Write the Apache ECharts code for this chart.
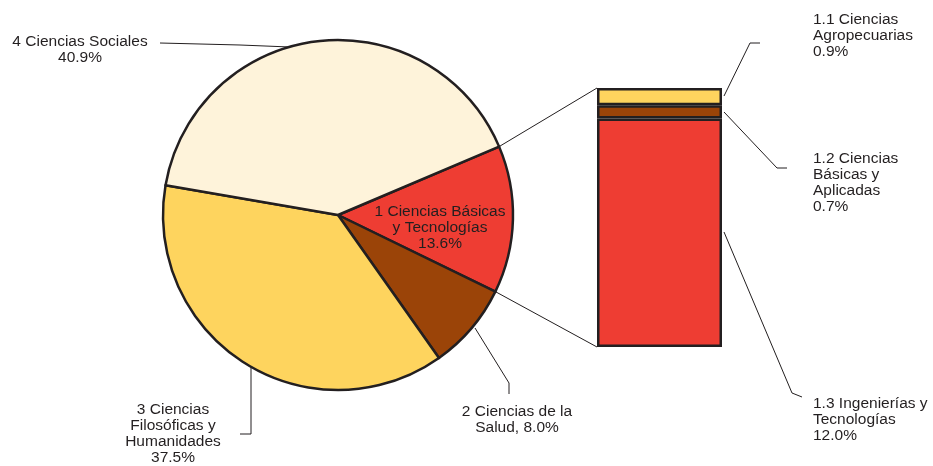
<!DOCTYPE html>
<html>
<head>
<meta charset="utf-8">
<script src="https://cdn.jsdelivr.net/npm/echarts@6/dist/echarts.min.js"></script>
<style>
html,body{margin:0;padding:0;background:#fff;}
#c{width:933px;height:466px;}
</style>
</head>
<body>
<div id="c"></div>
<script>
// ---- data ----
const pieCategories = ['1 Ciencias Básicas y Tecnologías', '2 Ciencias de la Salud', '3 Ciencias Filosóficas y Humanidades', '4 Ciencias Sociales'];
const pieValues = [13.6, 8.0, 37.5, 40.9];
const pieLabels = ['1 Ciencias Básicas\ny Tecnologías\n13.6%', '2 Ciencias de la\nSalud, 8.0%', '3 Ciencias\nFilosóficas y\nHumanidades\n37.5%', '4 Ciencias Sociales\n40.9%'];
const barCategories = ['1.1 Ciencias Agropecuarias', '1.2 Ciencias Básicas y Aplicadas', '1.3 Ingenierías y Tecnologías'];
const barValues = [0.9, 0.7, 12.0];
const barLabels = ['1.1 Ciencias\nAgropecuarias\n0.9%', '1.2 Ciencias\nBásicas y\nAplicadas\n0.7%', '1.3 Ingenierías y\nTecnologías\n12.0%'];

// ---- styles / layout ----
const pieColors = ['#EE3D33', '#9B4408', '#FED45E', '#FEF3DA'];
const barColors = ['#FED45E', '#9B4408', '#EE3D33'];
const ink = '#231f20';
const font = "'Liberation Sans', Arial, Helvetica, sans-serif";
const FS = 15.5, LH = 16;
const PC = [338, 215], PR = 175, START = 23;
const G = {left: 597, top: 88, width: 125, height: 259};

const pieLayout = [
  {x: 440, y: 204, align: 'center', pts: null},
  {x: 517, y: 404, align: 'center', pts: [[475, 328], [509, 383], [509, 394]]},
  {x: 173, y: 402, align: 'center', pts: [[251, 367], [251, 434], [240, 434]]},
  {x: 80, y: 34, align: 'center', pts: [[315, 48], [240, 45], [160, 43]]}
];
const barLayout = [
  {x: 813, y: 12, pts: [[724, 96], [750, 43], [760, 43]]},
  {x: 813, y: 151, pts: [[724, 112], [777, 168], [787, 168]]},
  {x: 813, y: 396, pts: [[724, 232], [792, 393], [802, 397]]}
];

const chart = echarts.init(document.getElementById('c'), null, {renderer: 'canvas'});

const total = pieValues.reduce((a, b) => a + b, 0);
const redShare = pieValues[0] / total;
const a1 = START * Math.PI / 180;
const a2 = (START - redShare * 360) * Math.PI / 180;
const p1 = [PC[0] + PR * Math.cos(a1), PC[1] - PR * Math.sin(a1)];
const p2 = [PC[0] + PR * Math.cos(a2), PC[1] - PR * Math.sin(a2)];

const barTotal = barValues.reduce((a, b) => a + b, 0);
// stack bottom->top: red (1.3), brown (1.2), yellow (1.1)
const order = [2, 1, 0];

const barSeries = order.map(i => ({
  type: 'bar',
  name: barCategories[i],
  stack: 'b',
  barWidth: '100%',
  data: [barValues[i]],
  itemStyle: {color: barColors[i], borderColor: ink, borderWidth: 2.5},
  label: {
    show: true,
    formatter: barLabels[i],
    color: ink, fontFamily: font, fontSize: FS, lineHeight: LH
  },
  labelLayout: function () {
    const L = barLayout[i];
    return {x: L.x, y: L.y, align: 'left', verticalAlign: 'top'};
  },
  silent: true
}));

const graphics = [
  {type: 'line', shape: {x1: p1[0], y1: p1[1], x2: G.left, y2: G.top}, style: {stroke: ink, lineWidth: 1}, z: 1},
  {type: 'line', shape: {x1: p2[0], y1: p2[1], x2: G.left, y2: G.top + G.height}, style: {stroke: ink, lineWidth: 1}, z: 1}
].concat(barLayout.map(L => ({
  type: 'polyline', shape: {points: L.pts}, style: {stroke: ink, lineWidth: 1, fill: null}, z: 1
})));

chart.setOption({
  animation: false,
  backgroundColor: '#ffffff',
  grid: {left: G.left, top: G.top, width: G.width, height: G.height},
  xAxis: {type: 'category', data: ['a'], show: false},
  yAxis: {type: 'value', min: 0, max: barTotal, show: false},
  graphic: graphics,
  series: [{
    type: 'pie',
    center: PC,
    radius: PR,
    startAngle: START,
    clockwise: true,
    avoidLabelOverlap: false,
    silent: true,
    z: 3,
    itemStyle: {borderColor: ink, borderWidth: 2.5},
    label: {show: true, position: 'outside', color: ink, fontFamily: font, fontSize: FS, lineHeight: LH},
    labelLine: {show: true, lineStyle: {color: ink, width: 1}},
    labelLayout: function (params) {
      const L = pieLayout[params.dataIndex];
      const r = {x: L.x, y: L.y, align: L.align, verticalAlign: 'top'};
      if (L.pts) r.labelLinePoints = L.pts;
      return r;
    },
    data: pieCategories.map((n, i) => ({
      name: n,
      value: pieValues[i],
      itemStyle: {color: pieColors[i]},
      label: {formatter: pieLabels[i], position: i === 0 ? 'inside' : 'outside'},
      labelLine: {show: i !== 0}
    }))
  }].concat(barSeries)
});
</script>
</body>
</html>
